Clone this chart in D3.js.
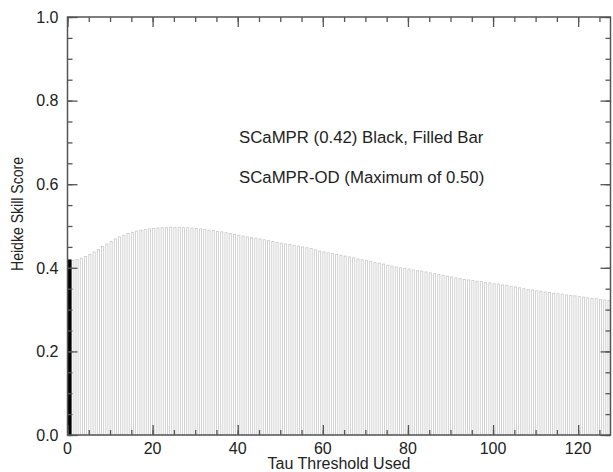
<!DOCTYPE html>
<html>
<head>
<meta charset="utf-8">
<script src="https://cdn.jsdelivr.net/npm/d3@7"></script>
<style>
  body { margin: 0; background: #fff; }
  text { font-family: "Liberation Sans", Arial, Helvetica, sans-serif; fill: #222; }
</style>
</head>
<body>
<svg id="chart" width="613" height="472"></svg>
<script>
// SCaMPR baseline skill (black bar at tau = 0)
var baseTau = 0;
var baseScore = 0.42;

// SCaMPR-OD skill for tau = 1 .. 127
var taus = d3.range(1, 128);
var scores = [
  0.418, 0.420, 0.423, 0.427, 0.432, 0.438, 0.444, 0.451, 0.457, 0.463,
  0.469, 0.474, 0.478, 0.482, 0.485, 0.488, 0.490, 0.492, 0.493, 0.494,
  0.495, 0.496, 0.496, 0.497, 0.497, 0.497, 0.496, 0.496, 0.495, 0.494,
  0.493, 0.492, 0.490, 0.489, 0.487, 0.486, 0.484, 0.482, 0.480, 0.478,
  0.476, 0.474, 0.472, 0.471, 0.469, 0.467, 0.465, 0.463, 0.461, 0.459,
  0.457, 0.456, 0.454, 0.452, 0.450, 0.448, 0.446, 0.443, 0.440, 0.438,
  0.436, 0.434, 0.432, 0.430, 0.428, 0.426, 0.424, 0.421, 0.419, 0.417,
  0.415, 0.413, 0.411, 0.409, 0.406, 0.404, 0.402, 0.400, 0.399, 0.397,
  0.395, 0.393, 0.392, 0.390, 0.388, 0.386, 0.384, 0.382, 0.380, 0.378,
  0.376, 0.374, 0.372, 0.371, 0.370, 0.368, 0.367, 0.365, 0.364, 0.362,
  0.361, 0.359, 0.358, 0.356, 0.354, 0.352, 0.350, 0.348, 0.347, 0.345,
  0.344, 0.342, 0.341, 0.339, 0.338, 0.337, 0.335, 0.334, 0.333, 0.331,
  0.330, 0.328, 0.327, 0.326, 0.324, 0.323, 0.322
];

var xTicks = [0, 20, 40, 60, 80, 100, 120];
var yTicks = [0.0, 0.2, 0.4, 0.6, 0.8, 1.0];

var notes = ["SCaMPR (0.42) Black, Filled Bar", "SCaMPR-OD (Maximum of 0.50)"];

var svg = d3.select("#chart");
var margin = { top: 17, right: 2.5, bottom: 37, left: 67.5 };
var width = 613 - margin.left - margin.right;
var height = 472 - margin.top - margin.bottom;

var g = svg.append("g").attr("transform", "translate(" + margin.left + "," + margin.top + ")");

var x = d3.scaleLinear().domain([0, 127.6]).range([0, width]);
var y = d3.scaleLinear().domain([0, 1]).range([height, 0]);

var data = taus.map(function(t, i) { return { tau: t, score: scores[i] }; });

// gray outlined bars
g.append("g").selectAll("rect")
  .data(data)
  .enter().append("rect")
  .attr("x", function(d) { return x(d.tau); })
  .attr("width", x(0.5) - x(0))
  .attr("y", function(d) { return y(d.score); })
  .attr("height", function(d) { return y(0) - y(d.score); })
  .attr("fill", "#fff")
  .attr("stroke", "#cbcbcb")
  .attr("stroke-width", 0.85);

// black filled bar
g.append("rect")
  .attr("x", x(baseTau))
  .attr("width", x(0.95) - x(0))
  .attr("y", y(baseScore))
  .attr("height", y(0) - y(baseScore))
  .attr("fill", "#000");

// axes, ticks pointing inward on all four sides
var axisColor = "#555";
function minor(step, max) { return d3.range(0, max + 1e-9, step); }

var bottom = d3.axisTop(x).tickValues(minor(5, 127)).tickSize(5).tickFormat("");
var bottomMajor = d3.axisTop(x).tickValues(xTicks).tickSize(10).tickFormat("");
var left = d3.axisRight(y).tickValues(minor(0.05, 1)).tickSize(5).tickFormat("");
var leftMajor = d3.axisRight(y).tickValues(yTicks).tickSize(10).tickFormat("");

g.append("g").attr("transform", "translate(0," + height + ")").call(bottom);
g.append("g").attr("transform", "translate(0," + height + ")").call(bottomMajor);
g.append("g").call(d3.axisBottom(x).tickValues(minor(5, 127)).tickSize(5).tickFormat(""));
g.append("g").call(d3.axisBottom(x).tickValues(xTicks).tickSize(10).tickFormat(""));
g.append("g").call(left);
g.append("g").call(leftMajor);
g.append("g").attr("transform", "translate(" + width + ",0)")
  .call(d3.axisLeft(y).tickValues(minor(0.05, 1)).tickSize(5).tickFormat(""));
g.append("g").attr("transform", "translate(" + width + ",0)")
  .call(d3.axisLeft(y).tickValues(yTicks).tickSize(10).tickFormat(""));

g.selectAll(".domain").remove();
g.selectAll(".tick line").attr("stroke", axisColor).attr("stroke-width", 1.3);

g.append("rect")
  .attr("width", width).attr("height", height)
  .attr("fill", "none").attr("stroke", axisColor).attr("stroke-width", 1.5);

// tick labels
g.append("g").selectAll("text")
  .data(xTicks)
  .enter().append("text")
  .attr("x", function(d) { return x(d); })
  .attr("y", height + 18.5)
  .attr("text-anchor", "middle")
  .style("font-size", "16px")
  .text(function(d) { return d; });

g.append("g").selectAll("text")
  .data(yTicks)
  .enter().append("text")
  .attr("x", -9)
  .attr("y", function(d) { return y(d) + 5.8; })
  .attr("text-anchor", "end")
  .style("font-size", "16px")
  .text(function(d) { return d.toFixed(1); });

// axis titles
svg.append("text")
  .attr("x", margin.left + width / 2)
  .attr("y", 469)
  .attr("text-anchor", "middle")
  .style("font-size", "16px")
  .text("Tau Threshold Used");

svg.append("text")
  .attr("transform", "translate(23,214) rotate(-90)")
  .attr("text-anchor", "middle")
  .attr("textLength", 114)
  .attr("lengthAdjust", "spacingAndGlyphs")
  .style("font-size", "16px")
  .text("Heidke Skill Score");

// annotations
svg.append("g").selectAll("text")
  .data(notes)
  .enter().append("text")
  .attr("x", 239)
  .attr("y", function(d, i) { return 142.5 + i * 40.5; })
  .style("font-size", "16.8px")
  .text(function(d) { return d; });
</script>
</body>
</html>
